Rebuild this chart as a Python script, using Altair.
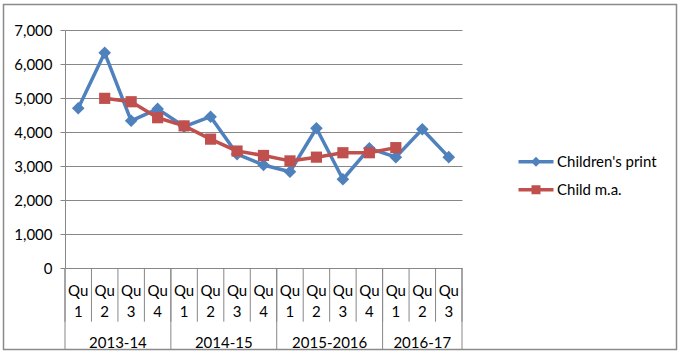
import altair as alt
import pandas as pd

# ---- data ----
years = ["2013-14", "2014-15", "2015-2016", "2016-17"]
quarters_per_year = [4, 4, 4, 3]
quarter_labels = ["1", "2", "3", "4", "1", "2", "3", "4", "1", "2", "3", "4", "1", "2", "3"]
childrens_print = [4700, 6330, 4330, 4680, 4160, 4450, 3350, 3030, 2830, 4110, 2610, 3520, 3260, 4080, 3260]
child_ma = [None, 4990, 4890, 4420, 4180, 3790, 3440, 3310, 3150, 3260, 3390, 3390, 3540, None, None]
series_names = ["Children's print", "Child m.a."]
y_ticks = [0, 1000, 2000, 3000, 4000, 5000, 6000, 7000]

BLUE = "#4F81BD"
RED = "#C0504D"
GRID = "#878787"
FONT = "Lato"

n = len(quarter_labels)
rows = []
for i in range(n):
    rows.append({"pos": i + 0.5, "series": series_names[0], "value": childrens_print[i]})
    if child_ma[i] is not None:
        rows.append({"pos": i + 0.5, "series": series_names[1], "value": child_ma[i]})
df = pd.DataFrame(rows)

cat_df = pd.DataFrame({"pos": [i + 0.5 for i in range(n)],
                       "lab": ["Qu\n" + q for q in quarter_labels]})
q_bounds = pd.DataFrame({"b": list(range(n + 1))})
starts = [0]
for c in quarters_per_year:
    starts.append(starts[-1] + c)
y_bounds = pd.DataFrame({"b": starts})
year_df = pd.DataFrame({"year": years,
                        "mid": [(starts[k] + starts[k + 1]) / 2 for k in range(len(years))]})

W, H = 397, 238
xscale = alt.Scale(domain=[0, n], nice=False, zero=False)
yscale = alt.Scale(domain=[0, 7000], nice=False)

y_axis = alt.Axis(values=y_ticks, format=",.0f", grid=True, gridColor=GRID, gridWidth=1,
                  domainColor=GRID, tickColor=GRID, tickSize=5, labelPadding=8,
                  labelFont=FONT, labelFontSize=15, labelColor="#000000", title=None,
                  labelOverlap=False)
X = alt.X("pos:Q", scale=xscale, axis=None)
Y = alt.Y("value:Q", scale=yscale, axis=y_axis)

base = alt.Chart(df)

lines = []
for name, col in zip(series_names, [BLUE, RED]):
    lines.append(
        base.transform_filter(alt.datum.series == name).mark_line(
            color=col, strokeWidth=3.5, strokeJoin="round"
        ).encode(x=X, y=Y)
    )
pts = [
    base.transform_filter(alt.datum.series == series_names[0]).mark_point(
        shape="diamond", filled=True, opacity=1, color=BLUE, size=160
    ).encode(x=X, y=Y),
    base.transform_filter(alt.datum.series == series_names[1]).mark_point(
        shape="square", filled=True, opacity=1, color=RED, size=125
    ).encode(x=X, y=Y),
]

# legend: a layer with no visible marks that carries the legend
PATH_DIA = "M-1.75,-0.175H1.75V0.175H-1.75Z M0,-0.5L0.5,0L0,0.5L-0.5,0Z"
PATH_SQ = "M-1.75,-0.175H1.75V0.175H-1.75Z M-0.45,-0.45H0.45V0.45H-0.45Z"
legend_layer = base.transform_filter("false").mark_point(filled=True, opacity=1).encode(
    x=X, y=Y,
    color=alt.Color("series:N", scale=alt.Scale(domain=series_names, range=[BLUE, RED]),
                    legend=alt.Legend(title=None, orient="none", legendX=461, legendY=121.7,
                                      symbolSize=400, symbolStrokeWidth=0, symbolOpacity=1,
                                      rowPadding=10, labelOffset=11, padding=0,
                                      labelFont=FONT, labelFontSize=15, labelColor="#000000")),
    shape=alt.Shape("series:N", scale=alt.Scale(domain=series_names, range=[PATH_DIA, PATH_SQ])),
)

qsep = alt.Chart(q_bounds).mark_rule(color=GRID, strokeWidth=1).encode(
    x=alt.X("b:Q", scale=xscale, axis=None), y=alt.value(H), y2=alt.value(H + 53.7))
ysep = alt.Chart(y_bounds).mark_rule(color=GRID, strokeWidth=1).encode(
    x=alt.X("b:Q", scale=xscale, axis=None), y=alt.value(H), y2=alt.value(H + 82))
qtext = alt.Chart(cat_df).mark_text(font=FONT, fontSize=15, color="#000000", lineBreak="\n",
                                    baseline="alphabetic", lineHeight=21, align="center").encode(
    x=alt.X("pos:Q", scale=xscale, axis=None), y=alt.value(H + 28), text="lab:N")
ytext = alt.Chart(year_df).mark_text(font=FONT, fontSize=15, color="#000000",
                                     baseline="alphabetic", align="center").encode(
    x=alt.X("mid:Q", scale=xscale, axis=None), y=alt.value(H + 80), text="year:N")

border = alt.Chart(alt.Data(values=[{"a": 1}])).mark_rect(
    fillOpacity=0, stroke="#8a8a8a", strokeWidth=1.5
).encode(x=alt.value(-61.5), x2=alt.value(611.5), y=alt.value(-25.5), y2=alt.value(H + 81.5))

chart = alt.layer(
    *lines, *pts, legend_layer, qsep, ysep, qtext, ytext, border
).properties(
    width=W, height=H,
    autosize=alt.AutoSizeParams(type="none"),
    padding={"left": 65, "top": 30, "right": 220, "bottom": 89},
    background="#ffffff",
).configure_view(strokeWidth=0)

chart.save("out.html", embed_options={"renderer": "svg", "actions": False})
